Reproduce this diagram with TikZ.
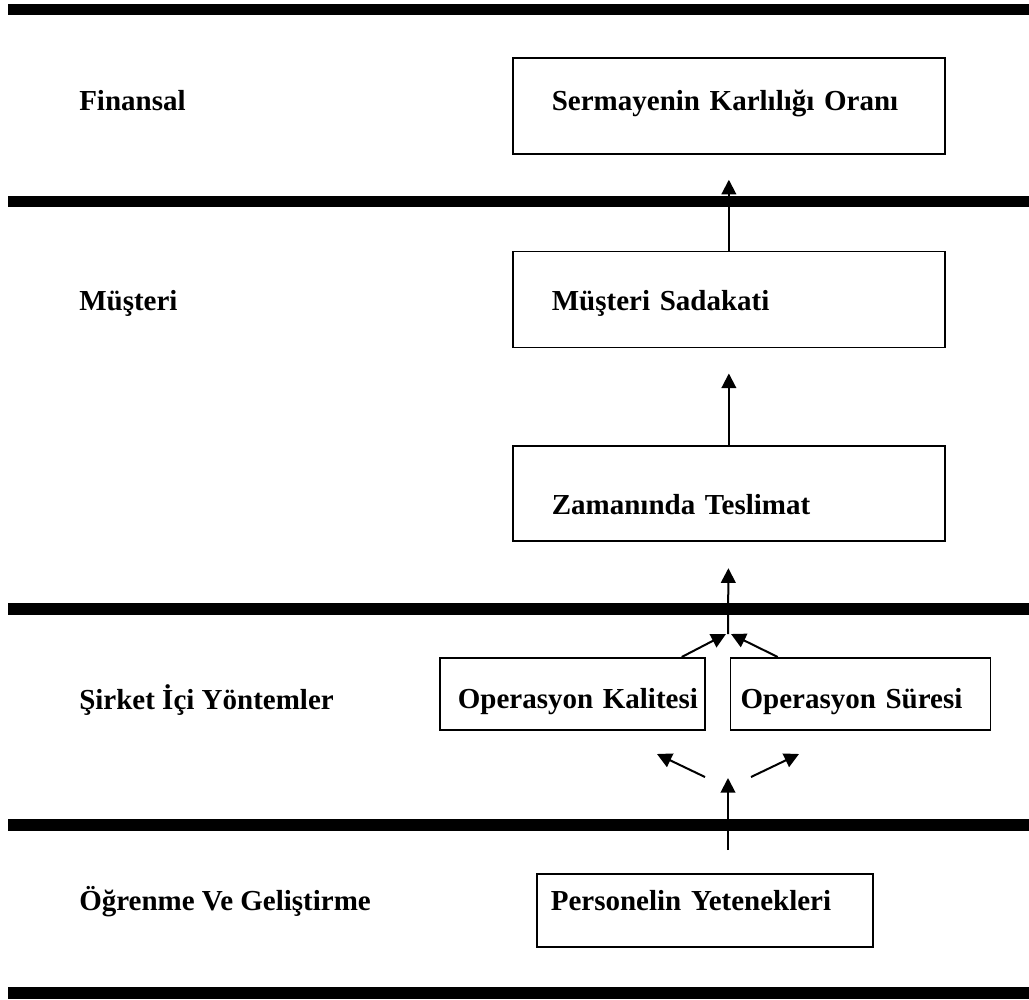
\documentclass[tikz,border=0pt]{standalone}
\usepackage{fontspec}
\setmainfont{Liberation Serif}
\usetikzlibrary{arrows.meta, positioning}

\begin{document}
\begin{tikzpicture}[x=0.75pt, y=-0.75pt,
        font=\fontsize{21.75pt}{26pt}\selectfont\bfseries,
        n/.style={anchor=base west, inner sep=0},
        b/.style n args={4}{draw, line width=1.3pt, inner xsep=0, inner ysep=0, align=left,
                text width=#1, execute at begin node={\hspace*{#2}}, text height=#3, text depth=#4},
        e/.style={-{Triangle[length=11pt, width=11pt]}, line width=1.5pt},
        s/.style={line width=8.6pt}]
        \useasboundingbox (0,0) rectangle (1029,1000);

        % perspective bars
        \foreach \y in {9.5, 201.5, 609, 825, 993}
        \draw[s] (8,\y) -- (1029,\y);

        % perspective names
        \node[n] (fin) at (79,110) {Finansal};
        \node[n] (mus) at (79,310) {Müşteri};
        \node[n] (sir) at (79,709) {Şirket İçi Yöntemler};
        \node[n] (ogr) at (79,910) {Öğrenme Ve Geliştirme};

        % boxes
        \node[b={324pt}{29.25pt}{39.75pt}{32.25pt}, anchor=north west] (sermaye) at (512,57) {Sermayenin Karlılığı Oranı};
        \node[b={324pt}{29.25pt}{44.25pt}{27.75pt}, below=72pt of sermaye] (sadakat) {Müşteri Sadakati};
        \node[b={324pt}{29.25pt}{51pt}{20.25pt}, below=72.75pt of sadakat] (zaman) {Zamanında Teslimat};
        \node[b={198.75pt}{13.5pt}{38.25pt}{15.75pt}, anchor=north west] (kalite) at (439,657) {Operasyon Kalitesi};
        \node[b={195pt}{7.5pt}{38.25pt}{15.75pt}, right=18pt of kalite] (sure) {Operasyon Süresi};
        \node[b={252pt}{10.5pt}{27.75pt}{27pt}, anchor=north west] (personel) at (536,873) {Personelin Yetenekleri};

        \coordinate (junc) at (728,634);
        \coordinate (root) at (728,850);
        \coordinate (fork) at (728,778);
        \coordinate (l1) at (705,777);
        \coordinate (l2) at (657,754);
        \coordinate (r1) at (751,777);
        \coordinate (r2) at (799,754);

        \draw[e, shorten >=18.75pt] (sadakat) -- (sermaye);
        \draw[e, shorten >=18.75pt] (zaman) -- (sadakat);
        \draw[e, shorten >=19.5pt] (junc) -- (zaman);
        \draw[e] ([xshift=-18pt]kalite.north east) -- ([xshift=-1.5pt]junc);
        \draw[e] ([xshift=36pt]sure.north west) -- ([xshift=2.25pt]junc);
        \draw[e] (root) -- (fork);
        \draw[e] (l1) -- (l2);
        \draw[e] (r1) -- (r2);
      \end{tikzpicture}
\end{document}
